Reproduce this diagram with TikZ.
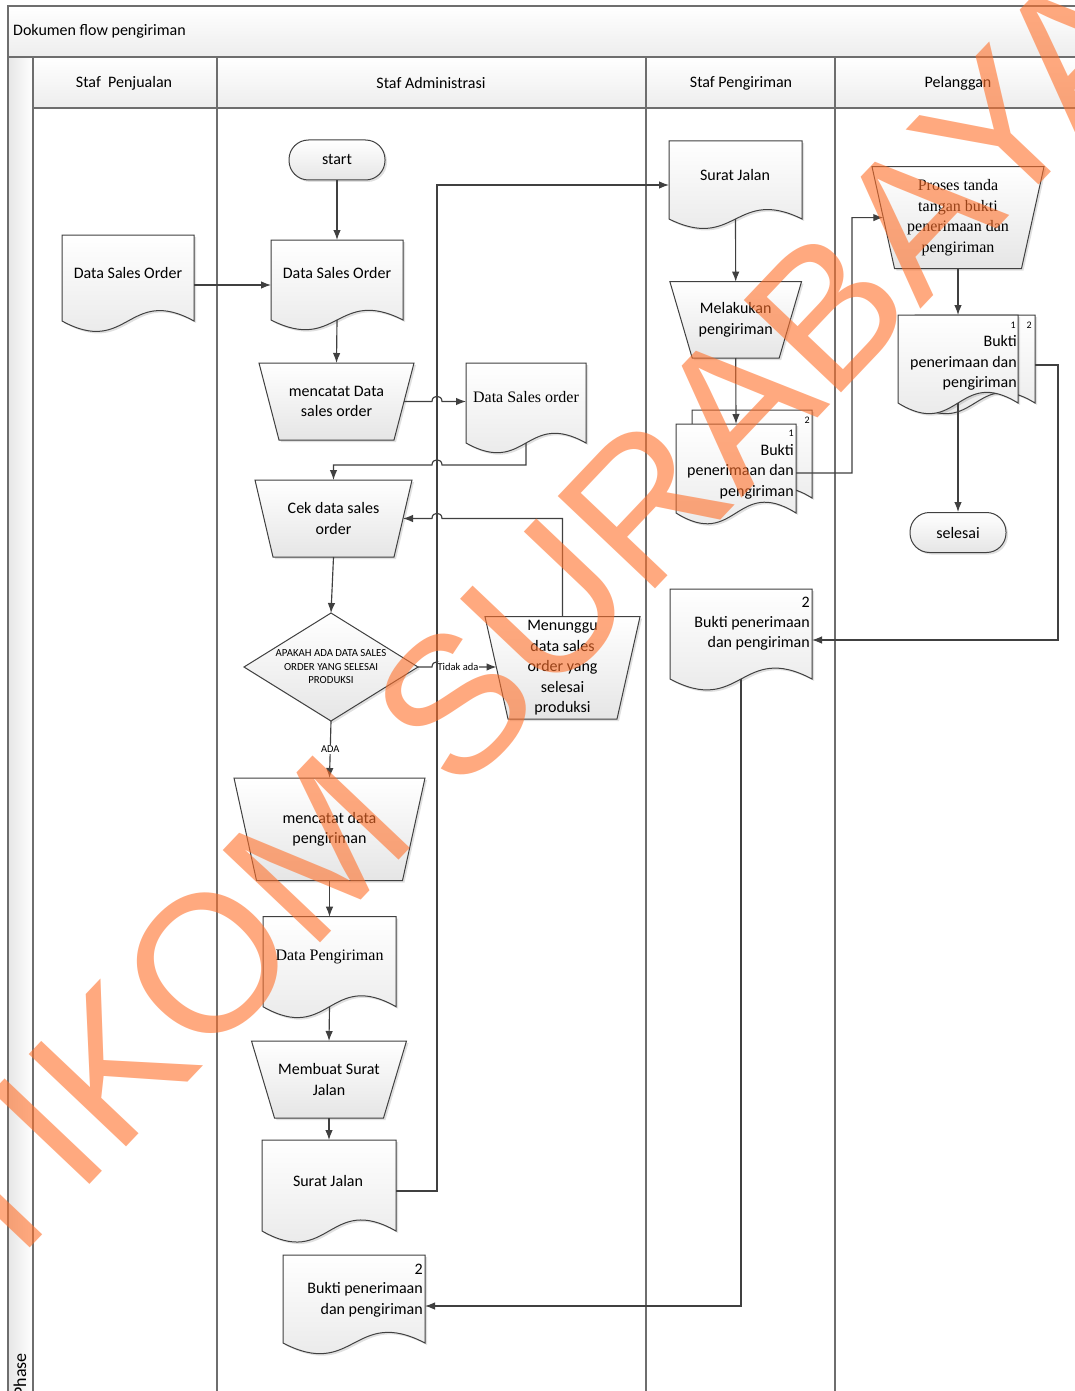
\documentclass[tikz,border=0pt]{standalone}
\usepackage{fontspec}
\setmainfont{Carlito}
\newfontfamily\seriffont{Liberation Serif}
\newfontfamily\wmfont{Liberation Sans}
\usetikzlibrary{arrows.meta,shadows}
\definecolor{lc}{HTML}{404040}
\definecolor{fc}{HTML}{6E6E6E}
\definecolor{wmc}{RGB}{255,112,42}
\tikzset{
  shp/.style={draw=lc, line width=1pt, top color=white, bottom color=black!10,
    drop shadow={shadow xshift=2pt, shadow yshift=-2pt, fill=black, opacity=0.12}},
  box/.style={draw=none, inner sep=0pt, outer sep=0pt},
  txt/.style={inner sep=0pt, align=center},
  small/.style={font=\fontsize{10}{12}\selectfont},
  sfont/.style={font=\seriffont\fontsize{16}{20.5}\selectfont},
  term/.style={shp, rectangle, rounded corners=19.5pt, minimum width=96, minimum height=40, inner sep=0pt},
  con/.style={draw=lc, line width=1.15pt},
  arr/.style={con, -{Latex[length=10pt,width=7.5pt]}},
  lbl/.style={fill=white, inner sep=1pt, font=\fontsize{10.5}{12}\selectfont},
  frame/.style={draw=fc, line width=1.4pt},
  wm/.style={rotate=46.5, text=wmc, text opacity=0.6, inner sep=0pt, font=\wmfont\fontsize{195}{195}\selectfont}
}
% document shape: xL, top, width, side height
\newcommand{\docpath}[4]{%
  \path[shp] (#1,#2) -- ({#1+#3},#2) -- ({#1+#3},{#2+#4})
    .. controls ({#1+0.5*#3},{#2+0.58*#4}) and ({#1+0.5*#3},{#2+1.42*#4}) .. (#1,{#2+#4}) -- cycle;}
\newcommand{\docnode}[5]{%
  \docpath{#2}{#3}{#4}{#5}
  \node[box, minimum width=#4, minimum height=#5] (#1) at ({#2+#4/2},{#3+#5/2}) {};}
% trapezoid: name, cx, top, bottom, half top, half bottom, text
\newcommand{\trapnode}[7]{%
  \path[shp] ({#2-#5},#3) -- ({#2+#5},#3) -- ({#2+#6},#4) -- ({#2-#6},#4) -- cycle;
  \node[box, align=center, minimum width={#5+#6}, minimum height={#4-#3}] (#1) at (#2,{(#3+#4)/2}) {#7};}

\begin{document}
\begin{tikzpicture}[x=1pt, y=-1pt, font=\fontsize{16}{20.5}\selectfont]
\useasboundingbox (0,0) rectangle (1075,1391);
\clip (0,0) rectangle (1075,1391);
\fill[white] (0,0) rectangle (1075,1391);

% ---------- frame ----------
\path[frame, top color=white, bottom color=black!7] (8,6) rectangle (1095,57);
\path[frame, top color=white, bottom color=black!7] (33,57) rectangle (1095,108);
\path[frame, left color=black!10, right color=white] (8,57) rectangle (33,1400);
\draw[frame] (217,57) -- (217,1400) (646,57) -- (646,1400) (835,57) -- (835,1400);
\node[anchor=west, txt] (title) at (13,31) {Dokumen flow pengiriman};
\node[txt] (h1) at (124,83) {Staf~~Penjualan};
\node[txt] (h2) at (431,83) {Staf Administrasi};
\node[txt] (h3) at (741,83) {Staf Pengiriman};
\node[txt] (h4) at (958,83) {Pelanggan};
\node[txt, rotate=90, anchor=east, font=\fontsize{18}{20}\selectfont] (phase) at (20,1353) {Phase};

% ---------- Staf Penjualan ----------
\docnode{pdoc}{62}{235}{132}{86}
\node[txt] (pdoct) at (128,273) {Data Sales Order};

% ---------- Staf Administrasi ----------
\node[term] (start) at (337,160) {start};
\docnode{adoc}{271}{240}{132}{80}
\node[txt] (adoct) at (337,273) {Data Sales Order};
\trapnode{mds}{336.5}{363}{440}{77.5}{57.5}{mencatat Data\\sales order}
\docnode{dso}{466}{363}{120}{80}
\node[txt, sfont] (dsot) at (526,397) {Data Sales order};
\trapnode{cek}{333.5}{480}{557}{78.5}{60.5}{Cek data sales\\order}
\path[shp] (331,613) -- (418,667) -- (331,721) -- (244,667) -- cycle;
\node[box, align=center, minimum width=174, minimum height=108, font=\fontsize{10.8}{13.5}\selectfont] (dia) at (331,667) {APAKAH ADA DATA SALES\\ORDER YANG SELESAI\\PRODUKSI};
\trapnode{mng}{562.5}{616.7}{719}{77.5}{54.5}{Menunggu\\data sales\\order yang\\selesai\\produksi}
\trapnode{mdp}{329.5}{778}{880.5}{95.5}{73}{mencatat data\\pengiriman}
\docnode{dpeng}{263}{916.7}{133}{90}
\node[txt, sfont] (dpengt) at (329.5,957) {Data Pengiriman};
\trapnode{msj}{329}{1041}{1118}{77.5}{54.5}{Membuat Surat\\Jalan}
\docnode{sj}{262}{1140}{134}{91}
\node[txt] (sjt) at (328,1181) {Surat Jalan};
\docnode{abk}{283}{1255}{142}{88}
\node[txt, anchor=east] (abkn) at (423,1269) {2};
\node[txt, align=right, anchor=east] (abkt) at (423,1300) {Bukti penerimaan\\dan pengiriman};

% ---------- Staf Pengiriman ----------
\docnode{sjp}{669}{141}{133}{78}
\node[txt] (sjpt) at (735,175) {Surat Jalan};
\trapnode{mlk}{735.7}{281.7}{358}{65.8}{43.5}{Melakukan\\pengiriman}
\docnode{mback}{692}{410}{120}{88}
\node[txt, small, anchor=east] (mbackn) at (810,420) {2};
\docnode{mfront}{676}{424}{120}{89}
\node[txt, small, anchor=east] (mfrontn) at (794,433) {1};
\node[txt, align=right, anchor=east] (mfrontt) at (794,471.5) {Bukti\\penerimaan dan\\pengiriman};
\docnode{bpeng}{670}{589}{142}{90}
\node[txt, anchor=east] (bpengn) at (810,602) {2};
\node[txt, align=right, anchor=east] (bpengt) at (810,633.5) {Bukti penerimaan\\dan pengiriman};

% ---------- Pelanggan ----------
\trapnode{prs}{958}{166.7}{268.5}{86}{63.5}{\seriffont Proses tanda\\\seriffont tangan bukti\\\seriffont penerimaan dan\\\seriffont pengiriman}
\docnode{pback}{915}{315}{120}{88}
\docnode{pfront}{898}{315}{120}{88}
\node[txt, small, anchor=east] (pbackn) at (1032,325) {2};
\node[txt, small, anchor=east] (pfrontn) at (1016,325) {1};
\node[txt, align=right, anchor=east] (pfrontt) at (1017,363) {Bukti\\penerimaan dan\\pengiriman};
\node[term] (selesai) at (958,532.5) {selesai};

% ---------- connectors ----------
\draw[arr] ([yshift=-7pt]pdoc.east) -- ([yshift=-7pt]pdoc.east -| adoc.west);
\draw[arr] (start.south) -- (adoc.north);
\draw[arr] (adoc.south) -- (mds.north);
\draw[arr] (mds.east) -- (432,401.5) .. controls (432,394.5) and (442,394.5) .. (442,401.5) -- (mds.east -| dso.west);
\draw[arr] (dso.south) -- (526,465) -- (442,465) .. controls (442,458) and (432,458) .. (432,465) -- (cek.north |- 0,465) -- (cek.north);
\draw[arr] (cek.south) -- (dia.north);
\draw[arr] (dia.east) -- (432,667) .. controls (432,660) and (442,660) .. (442,667) -- (dia.east -| mng.west);
\node[lbl] (tidak) at (458,667) {Tidak ada};
\draw[arr] (mng.north) -- (mng.north |- cek.east) -- (442,518.5) .. controls (442,511.5) and (432,511.5) .. (432,518.5) -- (cek.east);
\draw[arr] (dia.south) -- node[lbl] (ada) {ADA} (mdp.north);
\draw[arr] (mdp.south) -- (dpeng.north);
\draw[arr] (dpeng.south) -- (msj.north);
\draw[arr] (msj.south) -- (sj.north);
\draw[arr] ([yshift=-5.5pt]sj.east) -- (437,1191) -- (437,185) -- ([yshift=-5pt]sjp.west);
\draw[arr] (sjp.south) -- (mlk.north);
\draw[arr] (mlk.south) -- (mfront.north);
\draw[arr] ([yshift=-4.5pt]mfront.east) -- (852,473) -- (852,217.6) -- (prs.west);
\draw[arr] (prs.south) -- (pfront.north);
\draw[arr] (pfront.south) -- (selesai.north);
\draw[arr] ([yshift=-6pt]pback.east) -- (1058,365) -- (1058,640) -- ([yshift=-6pt]bpeng.east);
\draw[arr] (bpeng.south) -- (741,1306) -- ([yshift=-7pt]abk.east);

% ---------- watermark ----------
\node[wm] (wmk) at (489,667) {STIKOM SURABAYA};
\end{tikzpicture}
\end{document}
